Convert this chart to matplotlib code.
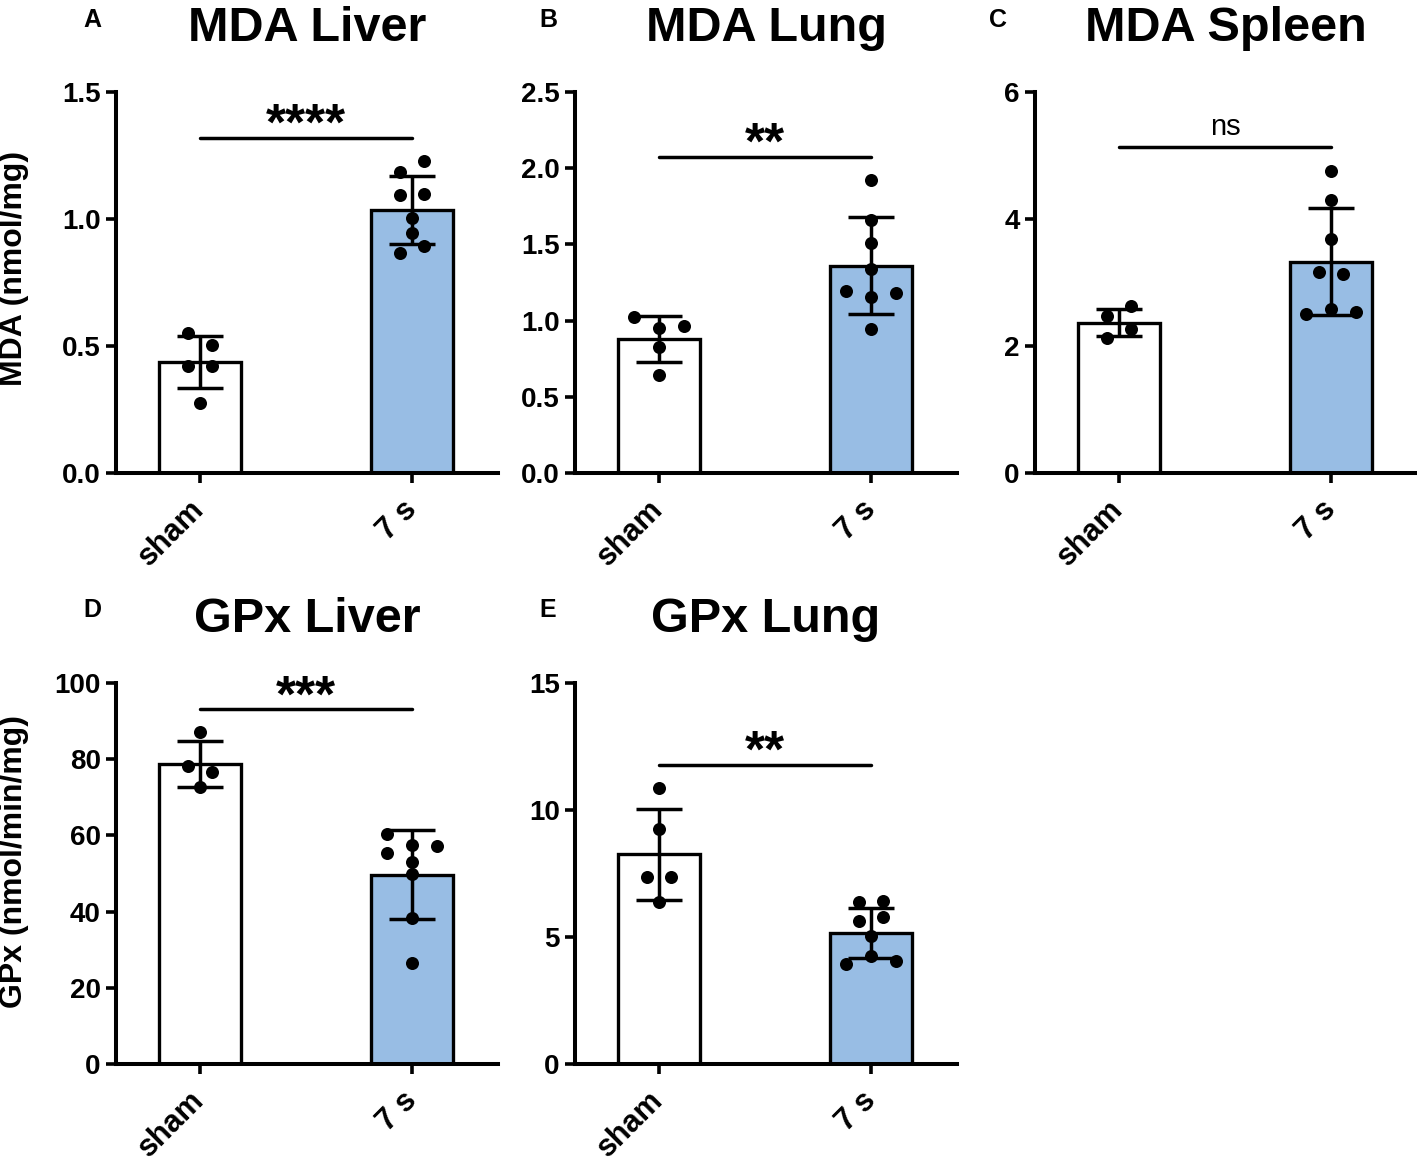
import numpy as np
import matplotlib
matplotlib.use("Agg")
import matplotlib.pyplot as plt

plt.rcParams['font.family'] = ['Liberation Sans', 'DejaVu Sans']

groups = ['sham', '7 s']
titles = ['MDA Liver', 'MDA Lung', 'MDA Spleen', 'GPx Liver', 'GPx Lung']
letters = ['A', 'B', 'C', 'D', 'E']
signif = ['****', '**', 'ns', '***', '**']
sig_y = [1.32, 2.075, 5.13, 93.1, 11.79]
ylims = [1.5, 2.5, 6, 100, 15]
ysteps = [0.5, 0.5, 2, 20, 5]
yfmt = ['%.1f', '%.1f', '%d', '%d', '%d']

# bar means and SD
means_sham = [0.436, 0.88, 2.37, 78.7, 8.25]
sd_sham = [0.103, 0.153, 0.218, 6.0, 1.8]
means_7s = [1.035, 1.36, 3.33, 49.7, 5.17]
sd_7s = [0.135, 0.317, 0.84, 11.6, 0.985]

# individual points
pts_sham = [
    [0.55, 0.504, 0.421, 0.421, 0.277],
    [1.026, 0.965, 0.949, 0.825, 0.643],
    [2.626, 2.469, 2.275, 2.13],
    [87.1, 78.2, 76.6, 72.8],
    [10.87, 9.26, 7.38, 7.38, 6.36],
]
pts_7s = [
    [1.23, 1.186, 1.094, 1.098, 1.003, 0.944, 0.894, 0.867],
    [1.923, 1.66, 1.511, 1.337, 1.196, 1.179, 1.153, 0.943],
    [4.753, 4.292, 3.684, 3.165, 3.129, 2.583, 2.511, 2.536],
    [60.4, 57.6, 57.2, 55.5, 53.0, 50.0, 38.4, 26.5],
    [6.36, 6.42, 5.63, 5.77, 5.05, 4.26, 3.93, 4.06],
]
# swarm slots for the dots (layout only)
slot_sham = [[-1, 1, -1, 1, 0], [-2, 2, 0, 0, 0], [1, -1, 1, -1],
             [0, -1, 1, 0], [0, 0, -1, 1, 0]]
slot_7s = [[1, -1, -1, 1, 0, 0, 1, -1], [0, 0, 0, 0, -2, 2, 0, 0],
           [0, 0, 0, -1, 1, 0, -2, 2], [-2, 0, 2, -2, 0, 0, 0, 0],
           [-1, 1, -1, 1, 0, 0, -2, 2]]

W, H = 1417, 1158
fig = plt.figure(figsize=(W / 100, H / 100), dpi=100)

boxes = [(116, 92), (575, 92), (1035, 92), (116, 683), (575, 683)]
letter_dx = [24, 27, 37, 24, 27]
aw, ah = 382, 381
blue = '#98bde4'
step = 0.058

for i in range(5):
    l, t = boxes[i]
    ax = fig.add_axes([l / W, 1 - (t + ah) / H, aw / W, ah / H])
    ax.bar([0, 1], [means_sham[i], means_7s[i]], width=0.387,
           color=['white', blue], edgecolor='black', linewidth=2.4, zorder=2)
    ax.errorbar([0, 1], [means_sham[i], means_7s[i]], yerr=[sd_sham[i], sd_7s[i]],
                fmt='none', ecolor='black', elinewidth=2.5, capsize=16.5,
                capthick=2.5, zorder=3)
    ax.scatter(np.array(slot_sham[i]) * step, pts_sham[i], s=88, color='black',
               zorder=4, clip_on=False, linewidths=0)
    ax.scatter(1 + np.array(slot_7s[i]) * step, pts_7s[i], s=88, color='black',
               zorder=4, clip_on=False, linewidths=0)

    ax.plot([0, 1], [sig_y[i], sig_y[i]], color='black', lw=2.5,
            solid_capstyle='round', clip_on=False)
    if signif[i] == 'ns':
        ax.annotate('ns', (0.5, sig_y[i]), xytext=(0, 8.5), textcoords='offset points',
                    ha='center', va='baseline', fontsize=21)
    else:
        ax.annotate(signif[i], (0.5, sig_y[i]), xytext=(0, -1.5), textcoords='offset points',
                    ha='center', va='baseline', fontsize=37, fontweight='bold')

    ax.set_xlim(-0.396, 1.406)
    ax.set_ylim(0, ylims[i])
    ax.set_yticks(np.arange(0, ylims[i] + ysteps[i] / 2, ysteps[i]))
    ax.yaxis.set_major_formatter(matplotlib.ticker.FormatStrFormatter(yfmt[i]))
    ax.set_xticks([0, 1])
    ax.set_xticklabels(groups, rotation=45, ha='right', va='center',
                       rotation_mode='anchor', fontsize=22, fontweight='bold')
    for lab in ax.get_yticklabels():
        lab.set_fontweight('bold')
        lab.set_fontsize(20)
    ax.tick_params(axis='y', length=7, width=2.6, pad=4, direction='out')
    ax.tick_params(axis='x', length=7, width=2.6, pad=16, direction='out')
    for s in ['top', 'right']:
        ax.spines[s].set_visible(False)
    for s in ['left', 'bottom']:
        ax.spines[s].set_linewidth(2.9)
    ax.set_title(titles[i], fontsize=35, fontweight='bold', pad=37)

    fig.text((l - letter_dx[i]) / W, 1 - 27 / H if t < 300 else 1 - 617 / H, letters[i],
             ha='center', va='baseline', fontsize=18, fontweight='bold')

fig.text(14 / W, 1 - 268 / H, 'MDA (nmol/mg)', rotation=90, ha='center', va='center',
         fontsize=23, fontweight='bold')
fig.text(14 / W, 1 - 862 / H, 'GPx (nmol/min/mg)', rotation=90, ha='center', va='center',
         fontsize=23, fontweight='bold')

fig.savefig('out.png', dpi=100)
